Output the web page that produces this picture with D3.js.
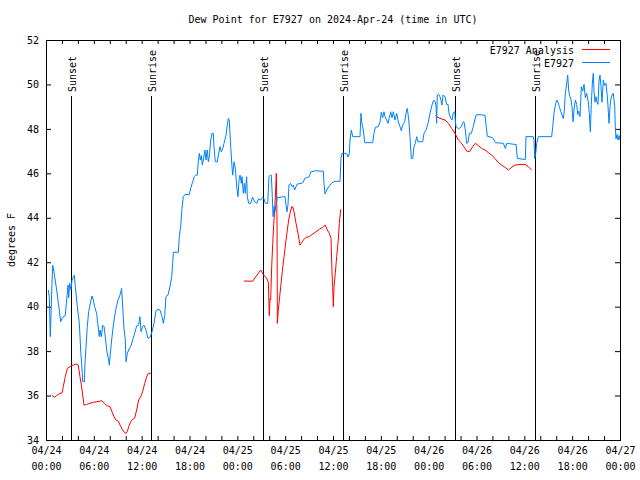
<!DOCTYPE html>
<html>
<head>
<meta charset="utf-8">
<script src="https://cdn.jsdelivr.net/npm/d3@7"></script>
<style>
body { margin: 0; background: #fff; }
text { font-family: "DejaVu Sans Mono", monospace; font-size: 10px; fill: #000; }
</style>
</head>
<body>
<svg id="chart" width="640" height="480"></svg>
<script>
// hours since 2024-04-24 00:00 UTC, degrees F
var obsPoints = [[0.29,40.75],[0.42,40.4],[0.54,38.65],[0.63,39.6],[0.75,41.05],[0.84,41.87],[0.96,41.65],[1.09,41.35],[1.34,40.75],[1.55,40.15],[1.67,39.85],[1.84,39.32],[2.01,39.47],[2.26,39.58],[2.42,39.6],[2.59,40.3],[2.76,40.97],[2.84,40.4],[2.97,41.05],[3.14,40.75],[3.26,41.2],[3.47,41.35],[3.55,41.42],[3.68,40.9],[3.93,40.0],[4.18,39.25],[4.35,38.05],[4.47,37.45],[4.6,36.62],[4.81,36.62],[4.89,37.45],[5.02,38.2],[5.18,39.1],[5.35,39.77],[5.6,40.22],[5.77,40.48],[5.94,40.3],[6.1,40.0],[6.35,39.7],[6.52,39.17],[6.69,38.65],[6.77,38.95],[6.94,38.65],[7.11,39.17],[7.28,39.1],[7.44,38.65],[7.61,38.05],[7.82,37.67],[7.94,37.37],[8.11,38.05],[8.28,38.65],[8.53,39.4],[8.78,39.92],[9.03,40.3],[9.28,40.52],[9.49,40.82],[9.62,40.0],[9.78,39.02],[9.95,38.5],[10.04,37.52],[10.2,37.9],[10.37,38.05],[10.62,38.2],[10.87,38.5],[11.12,38.8],[11.37,39.13],[11.62,39.17],[11.79,39.55],[11.92,38.87],[12.12,39.1],[12.29,39.17],[12.54,38.95],[12.79,38.57],[13.05,38.62],[13.3,38.87],[13.55,39.25],[13.8,39.82],[14.05,39.87],[14.3,39.85],[14.55,39.55],[14.72,39.25],[14.89,39.6],[15.05,40.45],[15.3,40.52],[15.55,40.9],[15.77,41.35],[15.89,41.95],[15.97,42.45],[16.6,42.45],[16.72,43.15],[16.89,43.6],[17.06,44.42],[17.22,44.95],[17.44,45.05],[17.98,45.05],[18.15,45.33],[18.4,45.62],[18.6,45.85],[18.78,45.92],[18.98,45.92],[19.1,46.52],[19.23,46.9],[19.36,46.6],[19.48,46.8],[19.61,46.37],[19.73,46.6],[19.94,47.05],[20.07,46.6],[20.23,47.05],[20.36,46.52],[20.48,46.75],[20.66,47.5],[20.82,47.8],[20.99,47.8],[21.07,47.2],[21.24,46.52],[21.49,46.52],[21.66,46.9],[21.83,47.2],[21.99,46.97],[22.16,47.1],[22.33,47.35],[22.58,47.72],[22.74,48.17],[22.87,48.47],[22.99,48.4],[23.08,47.8],[23.17,47.2],[23.33,46.3],[23.42,45.92],[23.58,46.52],[23.75,46.22],[23.92,45.4],[24.08,44.95],[24.21,45.7],[24.34,45.92],[24.5,45.55],[24.59,45.85],[24.75,45.1],[24.88,45.55],[25.0,45.1],[25.17,45.85],[25.25,44.95],[25.42,44.65],[25.67,44.65],[25.92,44.92],[26.18,44.72],[26.43,44.65],[26.68,44.85],[26.93,44.8],[27.18,44.92],[27.35,44.85],[27.51,44.65],[27.81,44.65],[27.97,45.85],[28.14,45.92],[28.26,45.92],[28.39,44.95],[28.48,44.05],[28.6,44.5],[28.73,44.27],[28.85,44.6],[29.02,44.92],[29.35,44.92],[29.77,44.95],[29.98,44.95],[30.11,44.57],[30.23,44.27],[30.36,44.6],[30.48,45.47],[30.69,45.55],[30.86,45.4],[31.02,45.47],[31.19,45.25],[31.36,45.4],[31.52,45.52],[32.07,45.55],[32.27,45.6],[32.45,45.77],[33.03,45.85],[33.2,46.06],[33.78,46.12],[34.37,46.1],[34.78,46.1],[34.87,45.55],[35.0,45.07],[35.21,45.25],[35.46,45.4],[35.62,45.47],[35.88,45.58],[36.25,45.64],[36.88,45.64],[37.0,46.68],[37.13,46.9],[37.72,46.9],[37.88,46.73],[38.05,46.9],[38.13,47.5],[38.3,47.95],[38.47,47.65],[39.39,47.65],[39.51,48.7],[39.6,48.3],[39.8,47.95],[39.98,47.38],[40.98,47.38],[41.14,47.8],[41.31,48.07],[41.68,48.1],[41.9,48.32],[42.06,48.75],[42.23,48.5],[42.4,48.77],[42.56,48.5],[42.73,48.4],[42.9,48.25],[43.06,48.5],[43.24,48.77],[43.4,48.5],[43.57,48.77],[43.78,48.4],[43.99,48.7],[44.19,48.32],[44.41,48.1],[44.57,47.92],[44.74,48.17],[44.99,48.32],[45.16,48.7],[45.32,48.92],[45.5,48.4],[45.66,47.65],[45.82,46.67],[46.0,46.67],[46.16,47.2],[46.32,47.35],[46.5,47.65],[46.66,47.42],[47.25,47.42],[47.42,47.8],[47.67,47.95],[47.92,48.25],[48.17,48.7],[48.42,49.07],[48.58,49.27],[48.75,49.27],[48.92,49.07],[49.0,48.25],[49.08,49.52],[49.26,49.55],[49.42,49.45],[49.55,49.27],[49.67,49.07],[49.8,49.52],[50.05,49.45],[50.26,49.1],[50.43,49.1],[50.55,48.7],[50.77,48.47],[50.93,48.4],[51.1,48.73],[51.27,48.77],[51.34,48.4],[51.43,48.1],[51.76,48.0],[52.1,48.1],[52.27,48.28],[52.43,48.32],[52.6,47.95],[52.77,47.35],[52.94,47.4],[53.1,47.8],[53.35,47.8],[53.6,48.1],[53.78,48.4],[53.94,48.62],[54.44,48.65],[54.65,48.62],[55.07,48.62],[55.19,48.2],[55.36,47.67],[56.03,47.6],[56.2,47.5],[56.36,47.38],[57.37,47.35],[57.62,47.12],[57.8,47.35],[58.83,47.3],[58.96,47.3],[59.12,46.67],[60.13,46.62],[60.21,47.65],[61.12,47.65],[61.21,47.5],[61.3,46.67],[61.43,46.9],[61.55,47.35],[61.76,47.65],[63.43,47.65],[63.56,48.1],[63.72,48.7],[63.89,49.07],[64.06,49.3],[64.22,49.2],[64.39,49.0],[64.56,48.8],[64.73,48.62],[64.89,48.47],[65.02,48.85],[65.14,49.6],[65.32,50.05],[65.44,50.42],[65.57,49.7],[65.73,49.45],[65.86,49.3],[65.98,49.0],[66.11,48.32],[66.23,48.85],[66.4,49.3],[66.57,49.1],[66.7,48.65],[66.82,48.8],[66.98,48.55],[67.15,49.9],[67.32,49.7],[67.49,50.0],[67.65,49.4],[67.82,49.6],[68.02,49.22],[68.15,48.7],[68.28,47.87],[68.4,49.1],[68.53,50.05],[68.65,50.5],[68.74,49.7],[68.87,49.2],[68.99,49.45],[69.12,49.2],[69.24,49.1],[69.37,50.2],[69.49,50.42],[69.62,49.9],[69.74,49.2],[69.91,50.2],[70.08,49.95],[70.24,50.05],[70.4,49.5],[70.5,49.0],[70.62,48.25],[70.75,49.0],[70.83,49.3],[71.0,49.52],[71.16,49.6],[71.34,49.0],[71.41,48.1],[71.5,47.55],[71.63,47.75],[71.75,47.5],[71.91,47.7],[72.0,47.5]]

// analysis series, null marks a gap
var analysisPoints = [[0.71,36.02],[1.04,35.92],[1.34,36.0],[1.76,36.1],[2.01,36.12],[2.17,36.4],[2.42,36.85],[2.67,37.22],[3.01,37.3],[3.42,37.37],[3.76,37.42],[4.05,37.37],[4.26,36.85],[4.47,36.4],[4.6,36.02],[4.77,35.57],[5.1,35.6],[5.52,35.65],[5.94,35.7],[6.35,35.72],[6.69,35.74],[6.98,35.77],[7.19,35.7],[7.44,35.62],[7.69,35.53],[8.03,35.5],[8.28,35.27],[8.53,35.05],[8.78,34.9],[9.12,34.82],[9.37,34.6],[9.62,34.45],[9.87,34.33],[10.04,34.3],[10.2,34.38],[10.37,34.6],[10.62,34.82],[10.87,34.93],[11.12,34.98],[11.37,35.35],[11.62,35.8],[11.88,35.95],[12.12,36.17],[12.38,36.55],[12.63,36.85],[12.83,37.0],[13.13,37.0],
  null,
  [24.84,41.15],[25.93,41.15],[26.93,41.65],[27.26,41.45],[27.68,41.27],[27.89,41.1],[28.01,39.6],[28.1,40.35],[28.18,40.3],[28.31,41.8],[28.44,42.85],[28.56,43.67],[28.69,44.42],[28.81,45.25],[28.89,46.0],[28.98,43.8],[29.02,39.25],[29.14,39.85],[29.27,40.3],[29.44,40.9],[29.64,41.57],[29.86,42.25],[30.11,43.0],[30.27,43.45],[30.44,43.9],[30.61,44.2],[30.82,44.5],[30.94,44.5],[31.11,44.27],[31.36,43.75],[31.61,43.3],[31.86,42.77],[32.03,42.85],[32.28,43.0],[32.61,43.12],[33.03,43.15],[33.45,43.27],[33.87,43.37],[34.28,43.48],[34.71,43.57],[35.04,43.67],[35.29,43.45],[35.54,43.3],[35.75,43.07],[35.88,41.5],[35.96,40.9],[36.04,40.0],[36.13,40.9],[36.29,41.5],[36.46,42.25],[36.66,43.0],[36.79,43.75],[36.97,44.38],
  null,
  [48.88,48.58],[49.42,48.47],[50.05,48.4],[50.47,48.25],[50.89,48.02],[51.3,47.8],[51.72,47.5],[52.14,47.35],[52.56,47.12],[52.85,46.97],[53.19,47.0],[53.52,47.2],[53.85,47.35],[54.23,47.25],[54.65,47.12],[55.07,47.05],[55.48,46.93],[55.9,46.82],[56.32,46.67],[56.74,46.48],[57.16,46.37],[57.58,46.27],[58.0,46.15],[58.42,46.27],[58.83,46.37],[59.46,46.4],[60.09,46.4],[60.5,46.3],[60.92,46.15]]

var sunHours = [3.14, 13.17, 27.22, 37.25, 51.3, 61.34]
var sunLabels = ["Sunset", "Sunrise", "Sunset", "Sunrise", "Sunset", "Sunrise"]

var seriesNames = ["E7927 Analysis", "E7927"]
var seriesColors = ["#ff0000", "#0080ff"]

var yTicks = [34, 36, 38, 40, 42, 44, 46, 48, 50, 52]

var startTime = Date.UTC(2024, 3, 24)
var endTime = Date.UTC(2024, 3, 27)
function toDate(h) { return new Date(startTime + h * 3600000) }

var margin = {left: 46, right: 20, top: 40, bottom: 40}
var width = 640, height = 480
var svg = d3.select("#chart")

var xScale = d3.scaleUtc().domain([new Date(startTime), new Date(endTime)]).range([margin.left, width - margin.right])
var yScale = d3.scaleLinear().domain([34, 52]).range([height - margin.bottom, margin.top])

var plotLeft = margin.left, plotRight = width - margin.right
var plotTop = margin.top, plotBottom = height - margin.bottom

// title + y label
svg.append("text").attr("x", (plotLeft + plotRight) / 2).attr("y", 23)
    .attr("text-anchor", "middle")
    .text("Dew Point for E7927 on 2024-Apr-24 (time in UTC)")
svg.append("text").attr("transform", "translate(15," + (plotTop + plotBottom) / 2 + ") rotate(-90)")
    .attr("text-anchor", "middle")
    .text("degrees F")

// axes (ticks point inward, mirrored on top and right)
var fmtDay = d3.utcFormat("%m/%d"), fmtTime = d3.utcFormat("%H:%M")
var xBottom = svg.append("g").attr("transform", "translate(0," + plotBottom + ")")
    .call(d3.axisBottom(xScale).ticks(d3.utcHour.every(2)).tickSize(-4).tickSizeOuter(0).tickFormat(""))
var xLabels = svg.append("g").attr("transform", "translate(0," + plotBottom + ")")
    .call(d3.axisBottom(xScale).ticks(d3.utcHour.every(6)).tickSize(0).tickPadding(14).tickFormat(""))
xLabels.selectAll(".tick text").each(function(d) {
    var t = d3.select(this)
    t.append("tspan").attr("x", 0).attr("dy", 0).text(fmtDay(d))
    t.append("tspan").attr("x", 0).attr("dy", 16).text(fmtTime(d))
})
svg.append("g").attr("transform", "translate(0," + plotTop + ")")
    .call(d3.axisTop(xScale).ticks(d3.utcHour.every(2)).tickSize(-4).tickSizeOuter(0).tickFormat(""))
svg.append("g").attr("transform", "translate(" + plotLeft + ",0)")
    .call(d3.axisLeft(yScale).tickValues(yTicks).tickSize(-5).tickSizeOuter(0).tickPadding(7))
svg.append("g").attr("transform", "translate(" + plotRight + ",0)")
    .call(d3.axisRight(yScale).tickValues(yTicks).tickSize(-5).tickSizeOuter(0).tickFormat(""))
svg.selectAll(".domain").remove()
svg.selectAll(".tick line").attr("stroke", "#000")
svg.selectAll(".tick text").attr("fill", "#000").style("font-family", "DejaVu Sans Mono, monospace").style("font-size", "10px")

// sunrise / sunset markers
var sunTop = 96
sunHours.forEach(function(h, i) {
    var x = Math.round(xScale(toDate(h))) + 0.5
    svg.append("line").attr("x1", x).attr("x2", x).attr("y1", sunTop).attr("y2", plotBottom)
        .attr("stroke", "#000").attr("stroke-width", 1)
    svg.append("text").attr("transform", "translate(" + (x + 4) + "," + (sunTop - 4) + ") rotate(-90)")
        .text(sunLabels[i])
})

// data lines
var line = d3.line()
    .defined(function(d) { return d != null })
    .x(function(d) { return xScale(toDate(d[0])) })
    .y(function(d) { return yScale(d[1]) })

svg.append("path").datum(analysisPoints)
    .attr("fill", "none").attr("stroke", seriesColors[0]).attr("stroke-width", 1)
    .attr("d", line)
svg.append("path").datum(obsPoints)
    .attr("fill", "none").attr("stroke", seriesColors[1]).attr("stroke-width", 1)
    .attr("d", line)

// frame
svg.append("rect").attr("x", plotLeft + 0.5).attr("y", plotTop + 0.5)
    .attr("width", plotRight - plotLeft).attr("height", plotBottom - plotTop)
    .attr("fill", "none").attr("stroke", "#000")

// legend
seriesNames.forEach(function(name, i) {
    var y = 54 + i * 13
    svg.append("text").attr("x", 574).attr("y", y).attr("text-anchor", "end").text(name)
    svg.append("line").attr("x1", 582).attr("x2", 610).attr("y1", y - 4.5).attr("y2", y - 4.5)
        .attr("stroke", seriesColors[i])
})
</script>
</body>
</html>
